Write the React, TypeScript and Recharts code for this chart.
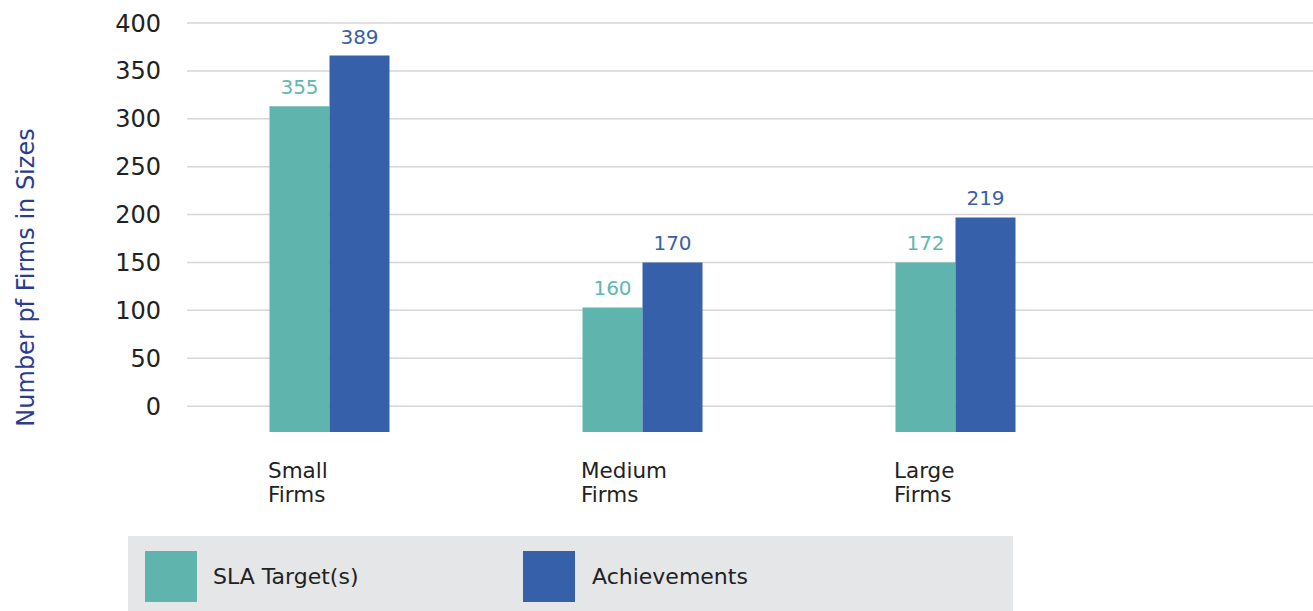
import React from "react";
import { BarChart, Bar, XAxis, YAxis, CartesianGrid, Legend, LabelList } from "recharts";

const categories = ["Small Firms", "Medium Firms", "Large Firms"];
// bar heights as drawn against the axis
const slaTarget = [313, 103, 150];
const achievements = [366, 150, 197];
// numbers printed above the bars
const slaLabels = ["355", "160", "172"];
const achLabels = ["389", "170", "219"];
const yTicks = [0, 50, 100, 150, 200, 250, 300, 350, 400];
const axisFloor = -27;
const axisTop = 400;

const TEAL = "#5fb5ae";
const BLUE = "#3660a9";
const FONT = "'DejaVu Sans', sans-serif";

const data = categories.map((c, i) => ({
  name: c,
  sla: [axisFloor, slaTarget[i]],
  ach: [axisFloor, achievements[i]],
}));

const makeLabel = (labels: string[], color: string, dy: number) => (props: any) => {
  const { x, y, width, index } = props;
  return (
    <text
      x={Number(x) + Number(width) / 2}
      y={Number(y) - dy}
      textAnchor="middle"
      fill={color}
      fontSize={20}
      fontFamily={FONT}
    >
      {labels[index]}
    </text>
  );
};

const XTick = (props: any) => {
  const { x, y, payload } = props;
  const parts = String(payload.value).split(" ");
  return (
    <g>
      {parts.map((p: string, i: number) => (
        <text
          key={i}
          x={x - 61}
          y={y + 46 + i * 24}
          textAnchor="start"
          fill="#222"
          fontSize={21.5}
          fontFamily={FONT}
        >
          {p}
        </text>
      ))}
    </g>
  );
};

const LegendBox = () => (
  <div style={{ position: "relative", width: 885, height: 75, background: "#e5e6e8", fontFamily: FONT }}>
    <div style={{ position: "absolute", left: 17, top: 15, width: 52, height: 51, background: TEAL }} />
    <div style={{ position: "absolute", left: 85, top: 27, fontSize: 22, color: "#222", lineHeight: "28px" }}>SLA Target(s)</div>
    <div style={{ position: "absolute", left: 395, top: 15, width: 52, height: 51, background: BLUE }} />
    <div style={{ position: "absolute", left: 464, top: 27, fontSize: 22, color: "#222", lineHeight: "28px" }}>Achievements</div>
  </div>
);

const gridRows = (props: any) => {
  const off = props.offset || {};
  const top = Number(off.top ?? 23);
  const h = Number(off.height ?? 409);
  return yTicks.map((t) => top + ((axisTop - t) / (axisTop - axisFloor)) * h);
};

export default function App() {
  return (
    <div style={{ position: "absolute", left: 0, top: 0 }}>
      <BarChart
        width={1313}
        height={611}
        data={data}
        margin={{ top: 23, right: 0, bottom: 0, left: 0 }}
        barGap={0}
        barSize={60}
      >
        <CartesianGrid
          horizontal
          vertical={false}
          stroke="#d6d6d6"
          strokeWidth={1.5}
          horizontalCoordinatesGenerator={gridRows}
        />
        <XAxis
          dataKey="name"
          axisLine={false}
          tickLine={false}
          tickSize={0}
          tickMargin={0}
          height={179}
          padding={{ left: -14.5, right: 201.5 }}
          tick={<XTick />}
          interval={0}
        />
        <YAxis
          type="number"
          domain={[axisFloor, axisTop]}
          ticks={yTicks}
          width={187}
          axisLine={false}
          tickLine={false}
          tickSize={0}
          tickMargin={26}
          tick={{ fill: "#222", fontSize: 24, fontFamily: FONT }}
          label={{
            value: "Number pf Firms in Sizes",
            angle: -90,
            position: "insideLeft",
            dx: 20,
            dy: 50,
            style: { fill: "#2b3d8f", fontSize: 24, fontFamily: FONT, textAnchor: "middle" },
          }}
        />
        <Legend
          layout="horizontal"
          verticalAlign="middle"
          align="center"
          content={<LegendBox />}
          wrapperStyle={{ position: "absolute", left: 128, top: 536, width: 885, height: 75 }}
        />
        <Bar dataKey="sla" name="SLA Target(s)" fill={TEAL} isAnimationActive={false}>
          <LabelList dataKey="sla" content={makeLabel(slaLabels, "#5eb8b0", 12)} />
        </Bar>
        <Bar dataKey="ach" name="Achievements" fill={BLUE} isAnimationActive={false}>
          <LabelList dataKey="ach" content={makeLabel(achLabels, "#3a5fa8", 12)} />
        </Bar>
      </BarChart>
    </div>
  );
}
